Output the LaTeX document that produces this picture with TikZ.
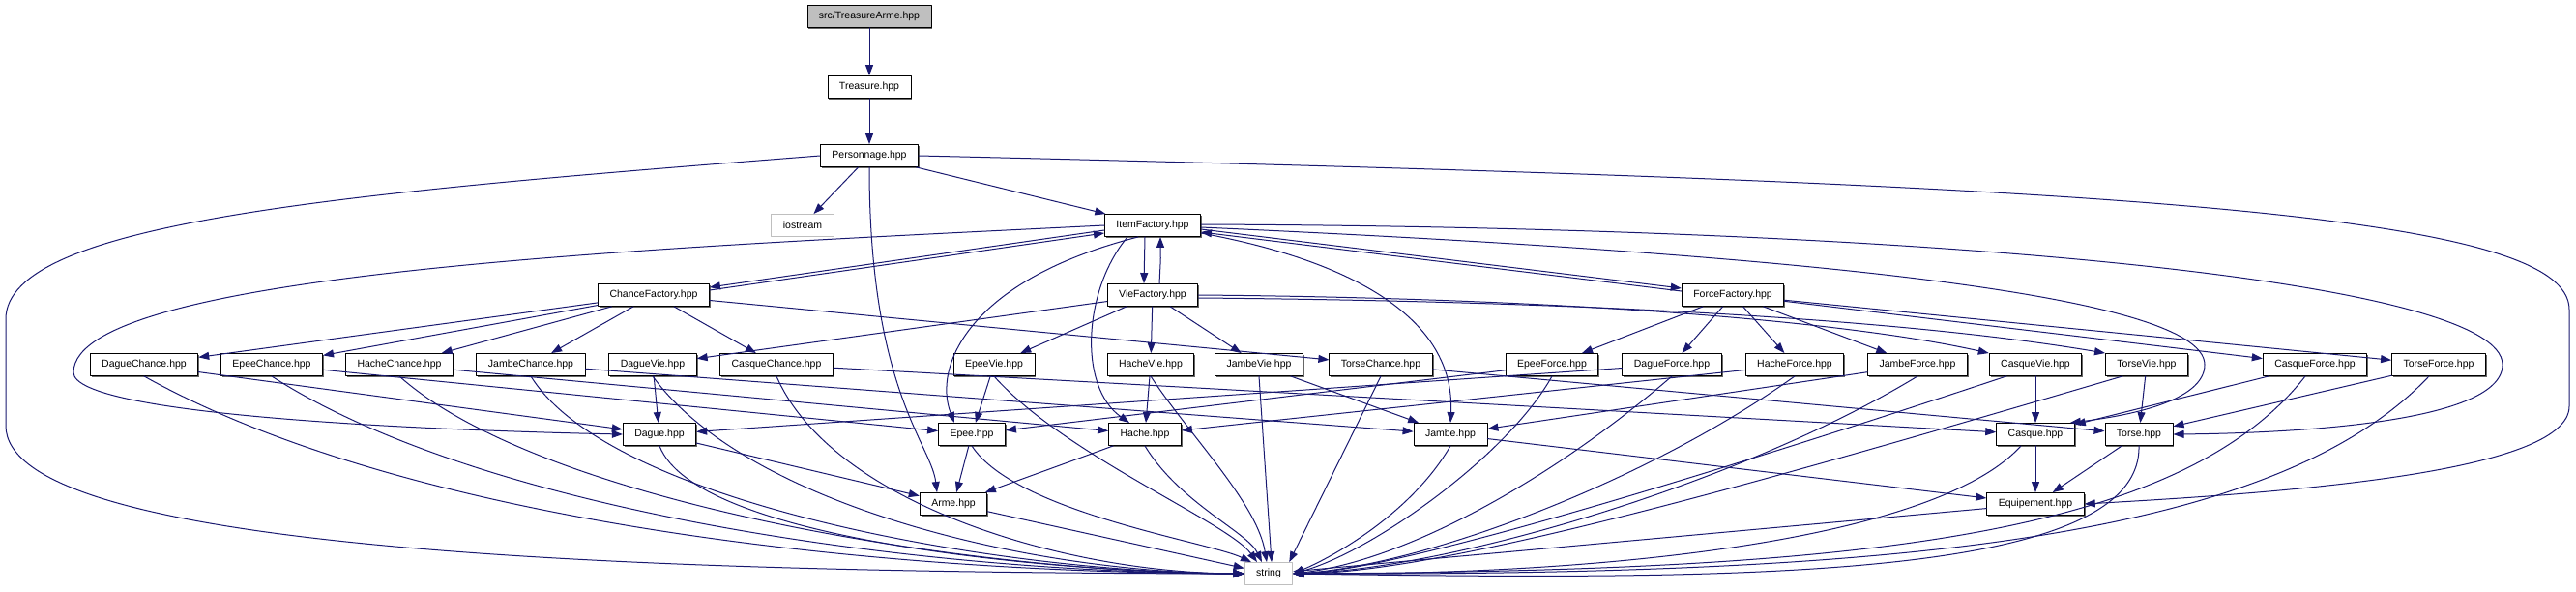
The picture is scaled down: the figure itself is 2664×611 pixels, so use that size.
\documentclass[tikz,border=0pt]{standalone}
\usepackage{fontspec}
\setmainfont{Liberation Sans}
\usetikzlibrary{arrows.meta,shadows}
\definecolor{edgeblue}{HTML}{191970}
\definecolor{boxgray}{HTML}{BFBFBF}
\tikzset{
    every picture/.style={line cap=round,line join=round},
    filenode/.style={draw=black,fill=white,line width=0.9pt,
      minimum height=23pt,inner xsep=12pt,inner ysep=2pt,
      font=\fontsize{10.5}{12}\selectfont,
      drop shadow={shadow xshift=1.4pt,shadow yshift=-1.4pt,fill=black!60,opacity=1}},
    mainfile/.style={filenode,fill=boxgray},
    sysfile/.style={draw=boxgray,fill=white,line width=0.9pt,
      minimum height=23pt,inner xsep=12pt,inner ysep=2pt,
      font=\fontsize{10.5}{12}\selectfont},
    incl/.style={draw=edgeblue,line width=1pt,-{Triangle[length=11pt,width=8pt]}}
}
\begin{document}
\begin{tikzpicture}[x=1pt,y=-1pt]
  \fill[white] (0,0) rectangle (2664,611);
  \useasboundingbox (0,0) rectangle (2664,611);
  % upper part
  \node[mainfile] (ta) at (899,17) {src/TreasureArme.hpp};
  \node[filenode] (tr) at (899,90) {Treasure.hpp};
  \node[filenode] (pe) at (899,161) {Personnage.hpp};
  \node[sysfile] (io) at (830,233) {iostream};
  \node[filenode] (itf) at (1192,233) {ItemFactory.hpp};
  \node[filenode] (chf) at (676,305) {ChanceFactory.hpp};
  \node[filenode] (vif) at (1192,305) {VieFactory.hpp};
  \node[filenode] (fof) at (1792,305) {ForceFactory.hpp};
  % items
  \foreach \n/\x/\t in {dc/149/DagueChance.hpp,ec/281/EpeeChance.hpp,hc/413/HacheChance.hpp,
      jc/549/JambeChance.hpp,dv/675/DagueVie.hpp,cc/803/CasqueChance.hpp,ev/1028/EpeeVie.hpp,
      hv/1190/HacheVie.hpp,jv/1302/JambeVie.hpp,tc/1428/TorseChance.hpp,ef/1605/EpeeForce.hpp,
      df/1729/DagueForce.hpp,hf/1856/HacheForce.hpp,jf/1983/JambeForce.hpp,cv/2105/CasqueVie.hpp,
      tv/2220/TorseVie.hpp,cf/2394/CasqueForce.hpp,tf/2522/TorseForce.hpp}
    {\node[filenode] (\n) at (\x,377) {\t};}
  \foreach \n/\x/\t in {da/682/Dague.hpp,ep/1005/Epee.hpp,ha/1184/Hache.hpp,
      ja/1500/Jambe.hpp,ca/2105/Casque.hpp,to/2212/Torse.hpp}
    {\node[filenode] (\n) at (\x,449) {\t};}
  \node[filenode] (ar) at (986,521) {Arme.hpp};
  \node[filenode] (eq) at (2105,521) {Equipement.hpp};
  \node[sysfile] (st) at (1312,593) {string};
  % straight includes
  \foreach \a/\b in {ta/tr,tr/pe,pe/io,pe/itf,chf/dc,chf/ec,chf/hc,chf/jc,chf/cc,chf/tc,
      vif/dv,vif/ev,vif/hv,vif/jv,fof/ef,fof/df,fof/hf,fof/jf,fof/cf,fof/tf,
      dv/da,ev/ep,hv/ha,jv/ja,cv/ca,tv/to,cf/ca,tf/to,ef/ep,df/da,hf/ha,jf/ja,
      dc/da,ec/ep,hc/ha,jc/ja,cc/ca,tc/to,da/ar,ep/ar,ha/ar,ja/eq,ca/eq,to/eq,
      ar/st,eq/st}
    {\draw[incl] (\a) -- (\b);}
  % factories both ways
  \draw[incl] ([yshift=-5pt]itf.west) -- ([yshift=8pt]chf.east);
  \draw[incl] ([yshift=5pt]chf.east) -- ([yshift=-8pt]itf.west);
  \draw[incl] ([xshift=-8pt]itf.south) -- ([xshift=-9pt]vif.north);
  \draw[incl] ([xshift=7pt]vif.north) .. controls +(2,-40) and +(0,30) .. ([xshift=8pt]itf.south);
  \draw[incl] ([yshift=-4pt]itf.east) -- ([yshift=7pt]fof.west);
  \draw[incl] ([yshift=4pt]fof.west) -- ([yshift=-7pt]itf.east);
  \draw[incl] (vif.east) .. controls (1600,308) and (1900,330) .. (cv.north west);
  \draw[incl] ([yshift=-3pt]vif.east) .. controls (1700,312) and (2000,335) .. (tv.north west);
  % ItemFactory to the items
  \draw[incl] (itf.west) .. controls (700,255) and (76,280) .. (76,385)
    .. controls (76,430) and (450,445) .. (da.west);
  \draw[incl] ([xshift=-15pt]itf.south) .. controls (1000,290) and (965,380) .. ([xshift=-18pt]ep.north);
  \draw[incl] ([xshift=-26pt]itf.south) .. controls (1120,300) and (1115,400) .. ([xshift=-16pt]ha.north);
  \draw[incl] ([yshift=-8pt]itf.east) .. controls (1400,270) and (1505,330) .. (ja.north);
  \draw[incl] ([yshift=-2pt]itf.east) .. controls (1800,260) and (2280,300) .. (2280,377)
    .. controls (2280,415) and (2200,430) .. ([xshift=-5pt]ca.north east);
  \draw[incl] ([yshift=1pt]itf.east) .. controls (2000,235) and (2588,290) .. (2588,377)
    .. controls (2588,440) and (2350,448) .. (to.east);
  % Personnage
  \draw[incl] (pe.south) .. controls +(0,230) and +(-6,-50) .. ([xshift=-17pt]ar.north);
  \draw[incl] (pe.west) .. controls (350,200) and (6,230) .. (6,330) -- (6,440)
    .. controls (6,565) and (600,592) .. (st.west);
  \draw[incl] (pe.east) .. controls (2200,190) and (2657,220) .. (2657,320) -- (2657,420)
    .. controls (2657,490) and (2350,510) .. (eq.east);
  % into string from the left
  \draw[incl] (dc.south) .. controls (420,540) and (900,592) .. (st.west);
  \draw[incl] (ec.south) .. controls (500,530) and (950,592) .. (st.west);
  \draw[incl] (hc.south) .. controls (560,520) and (1000,592) .. (st.west);
  \draw[incl] (jc.south) .. controls (630,520) and (1030,592) .. (st.west);
  \draw[incl] (dv.south) .. controls (770,520) and (1060,592) .. (st.west);
  \draw[incl] (cc.south) .. controls (860,520) and (1100,592) .. (st.west);
  \draw[incl] (da.south) .. controls (720,560) and (1100,592) .. (st.west);
  % into string from above
  \draw[incl] (ep.south) .. controls (1050,530) and (1250,560) .. ([xshift=-18pt]st.north);
  \draw[incl] (ev.south) .. controls (1100,470) and (1270,540) .. ([xshift=-12pt]st.north);
  \draw[incl] (ha.south) .. controls (1220,520) and (1290,550) .. ([xshift=-7pt]st.north);
  \draw[incl] (hv.south) .. controls (1230,450) and (1300,520) .. ([xshift=-2pt]st.north);
  \draw[incl] (jv.south) -- ([xshift=3pt]st.north);
  \draw[incl] (tc.south) -- ([xshift=-4pt]st.north east);
  % into string from the right
  \draw[incl] (ja.south) .. controls (1460,530) and (1380,575) .. (st.east);
  \draw[incl] (ef.south) .. controls (1560,470) and (1420,570) .. (st.east);
  \draw[incl] (df.south) .. controls (1600,500) and (1450,580) .. (st.east);
  \draw[incl] (hf.south) .. controls (1700,500) and (1470,585) .. (st.east);
  \draw[incl] (jf.south) .. controls (1800,500) and (1500,588) .. (st.east);
  \draw[incl] ([xshift=-30pt]cv.south) .. controls (1800,480) and (1450,590) .. (st.east);
  \draw[incl] ([xshift=-25pt]tv.south) .. controls (1850,490) and (1500,592) .. (st.east);
  \draw[incl] ([xshift=-15pt]ca.south) .. controls (2000,560) and (1650,595) .. (st.east);
  \draw[incl] (to.south) .. controls (2215,600) and (1800,600) .. (st.east);
  \draw[incl] ([xshift=-10pt]cf.south) .. controls (2250,560) and (1900,590) .. (st.east);
  \draw[incl] ([xshift=-10pt]tf.south) .. controls (2350,560) and (1950,595) .. (st.east);
\end{tikzpicture}
\end{document}
